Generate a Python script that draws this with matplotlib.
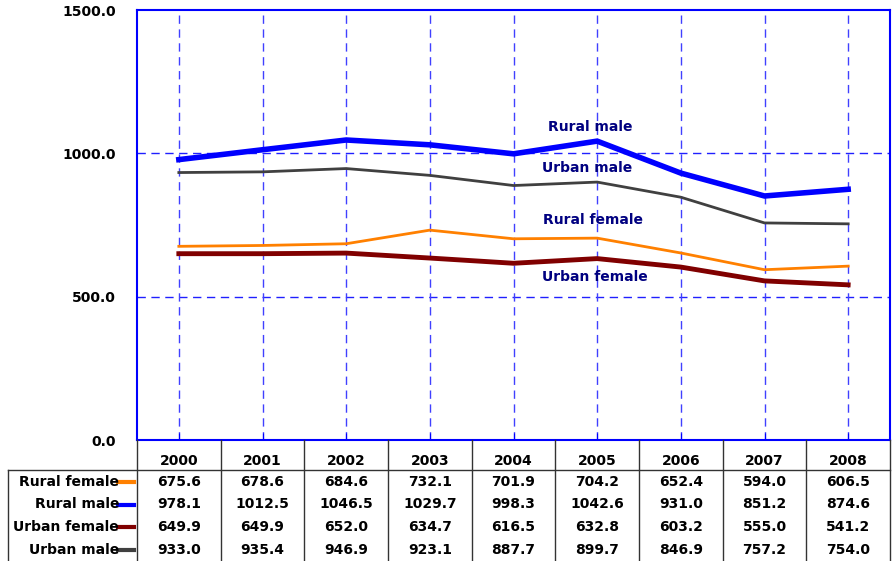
import matplotlib
matplotlib.use('Agg')
import matplotlib.pyplot as plt
from matplotlib.lines import Line2D

years = ['2000', '2001', '2002', '2003', '2004', '2005', '2006', '2007', '2008']
rural_female = [675.6, 678.6, 684.6, 732.1, 701.9, 704.2, 652.4, 594.0, 606.5]
rural_male = [978.1, 1012.5, 1046.5, 1029.7, 998.3, 1042.6, 931.0, 851.2, 874.6]
urban_female = [649.9, 649.9, 652.0, 634.7, 616.5, 632.8, 603.2, 555.0, 541.2]
urban_male = [933.0, 935.4, 946.9, 923.1, 887.7, 899.7, 846.9, 757.2, 754.0]

series = [('Rural female', rural_female, '#FF8000', 2.0),
          ('Rural male', rural_male, '#0000FF', 4.0),
          ('Urban female', urban_female, '#800000', 3.5),
          ('Urban male', urban_male, '#404040', 2.0)]

# label positions (x index, y value) for the in-plot captions
captions = [('Rural male', 4.92, 1092), ('Urban male', 4.88, 949),
            ('Rural female', 4.95, 767), ('Urban female', 4.97, 569)]

FS = 10
W, H = 896, 561
fig = plt.figure(figsize=(W / 100, H / 100), dpi=100)
ax_l, ax_r, ax_t, ax_b = 137, 890, 10, 440
ax = fig.add_axes([ax_l / W, 1 - ax_b / H, (ax_r - ax_l) / W, (ax_b - ax_t) / H])

x = range(len(years))
for name, vals, col, lw in series:
    ax.plot(x, vals, color=col, lw=lw, solid_joinstyle='miter')

for name, xi, yv in captions:
    ax.text(xi, yv, name, color='#000080', fontsize=FS, fontweight='bold',
            ha='center', va='center')

ax.set_xlim(-0.5, len(years) - 0.5)
ax.set_ylim(0, 1500)
ax.set_yticks([0, 500, 1000, 1500])
ax.set_yticklabels(['%.1f' % v for v in [0, 500, 1000, 1500]],
                   fontsize=FS, fontweight='bold')
ax.tick_params(axis='y', length=0, pad=15)
ax.set_xticks(list(x))
ax.set_xticklabels([])
ax.tick_params(axis='x', direction='in', length=5, color='#0000FF')
for v in [500, 1000]:
    ax.axhline(v, color='#2020FF', lw=1.0, ls=(0, (6, 4)), zorder=0)
for xi in x:
    ax.axvline(xi, color='#4040FF', lw=1.0, ls=(0, (6, 4)), zorder=0)
for s in ax.spines.values():
    s.set_color('#0000FF')
    s.set_linewidth(1.5)

# data table below the plot
col_w = (ax_r - ax_l) / len(years)
row_top = 470
row_h = 22.5
label_l = 8

def fx(px):
    return px / W

def fy(py):
    return 1 - py / H

lines = []
lines.append(Line2D([fx(label_l), fx(ax_r)], [fy(row_top), fy(row_top)]))
lines.append(Line2D([fx(label_l), fx(label_l)], [fy(row_top), fy(H)]))
for i in range(len(years) + 1):
    px = ax_l + i * col_w
    lines.append(Line2D([fx(px), fx(px)], [fy(ax_b), fy(H)]))
for ln in lines:
    ln.set_color('#333333')
    ln.set_linewidth(1.0)
    fig.add_artist(ln)

for i, yr in enumerate(years):
    fig.text(fx(ax_l + (i + 0.5) * col_w), fy(461), yr, fontsize=FS,
             fontweight='bold', ha='center', va='center')

for r, (name, vals, col, lw) in enumerate(series):
    cy = row_top + 12 + r * row_h
    fig.text(fx(119), fy(cy), name, fontsize=FS, fontweight='bold',
             ha='right', va='center')
    fig.add_artist(Line2D([fx(118), fx(134)], [fy(cy), fy(cy)], color=col,
                          lw=3))
    for i, v in enumerate(vals):
        fig.text(fx(ax_l + (i + 0.5) * col_w), fy(cy), '%.1f' % v,
                 fontsize=FS, fontweight='bold', ha='center', va='center')

fig.savefig('out.png', dpi=100)
